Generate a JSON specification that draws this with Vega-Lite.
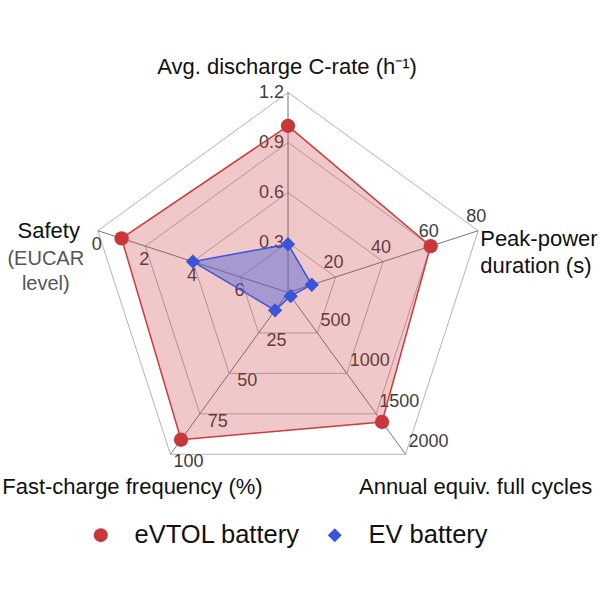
{
"$schema":"https://vega.github.io/schema/vega-lite/v6.json",
"width":601,"height":601,"autosize":{"type":"none"},"padding":0,
"background":"white",
"config":{"view":{"stroke":null},"font":"Liberation Sans"},
"datasets":{
 "axes":[
  {"idx":0,"max":1.2,"rev":0},
  {"idx":1,"max":80,"rev":0},
  {"idx":2,"max":2000,"rev":0},
  {"idx":3,"max":100,"rev":0},
  {"idx":4,"max":8,"rev":1}
 ],
 "ticks":[
  {"idx":0,"level":1,"label":"0.3"},{"idx":0,"level":2,"label":"0.6"},{"idx":0,"level":3,"label":"0.9"},{"idx":0,"level":4,"label":"1.2"},
  {"idx":1,"level":1,"label":"20"},{"idx":1,"level":2,"label":"40"},{"idx":1,"level":3,"label":"60"},{"idx":1,"level":4,"label":"80"},
  {"idx":2,"level":1,"label":"500"},{"idx":2,"level":2,"label":"1000"},{"idx":2,"level":3,"label":"1500"},{"idx":2,"level":4,"label":"2000"},
  {"idx":3,"level":1,"label":"25"},{"idx":3,"level":2,"label":"50"},{"idx":3,"level":3,"label":"75"},{"idx":3,"level":4,"label":"100"},
  {"idx":4,"level":1,"label":"6"},{"idx":4,"level":2,"label":"4"},{"idx":4,"level":3,"label":"2"},{"idx":4,"level":4,"label":"0"}
 ],
 "series":[
  {"battery":"eVTOL battery","idx":0,"value":1.0},
  {"battery":"eVTOL battery","idx":1,"value":60},
  {"battery":"eVTOL battery","idx":2,"value":1600},
  {"battery":"eVTOL battery","idx":3,"value":91},
  {"battery":"eVTOL battery","idx":4,"value":1},
  {"battery":"EV battery","idx":0,"value":0.29},
  {"battery":"EV battery","idx":1,"value":10},
  {"battery":"EV battery","idx":2,"value":45},
  {"battery":"EV battery","idx":3,"value":11},
  {"battery":"EV battery","idx":4,"value":4}
 ]
},
"encoding":{
 "x":{"field":"x","type":"quantitative","scale":{"domain":[-1.44,1.565],"nice":false,"zero":false},"axis":null},
 "y":{"field":"y","type":"quantitative","scale":{"domain":[-1.5425,1.4625],"nice":false,"zero":false},"axis":null}
},
"layer":[
 {"data":{"name":"ticks"},
  "transform":[{"calculate":"datum.level/4","as":"f"},{"calculate":"datum.idx*2*PI/5","as":"a"},{"calculate":"datum.f*sin(datum.a)","as":"x"},{"calculate":"datum.f*cos(datum.a)","as":"y"}],
  "mark":{"type":"line","interpolate":"linear-closed","stroke":"#b4b4b4","strokeWidth":1},
  "encoding":{"detail":{"field":"level","type":"nominal"},"order":{"field":"idx","type":"quantitative"}}},
 {"data":{"name":"axes"},
  "transform":[{"calculate":"1","as":"f"},{"calculate":"datum.idx*2*PI/5","as":"a"},{"calculate":"datum.f*sin(datum.a)","as":"x"},{"calculate":"datum.f*cos(datum.a)","as":"y"}],
  "mark":{"type":"rule","stroke":"#777777","strokeWidth":1},
  "encoding":{"x2":{"datum":0},"y2":{"datum":0}}},
 {"data":{"name":"ticks"},
  "transform":[{"filter":"datum.idx==0"},{"calculate":"datum.level/4","as":"f"},{"calculate":"datum.idx*2*PI/5","as":"a"},{"calculate":"datum.f*sin(datum.a)","as":"x"},{"calculate":"datum.f*cos(datum.a)","as":"y"}],
  "mark":{"type":"text","fontSize":18,"color":"#3d3d3d","align":"right","baseline":"middle","dx":-4,"dy":0},
  "encoding":{"text":{"field":"label"}}},
 {"data":{"name":"ticks"},
  "transform":[{"filter":"datum.idx==1"},{"calculate":"datum.level/4","as":"f"},{"calculate":"datum.idx*2*PI/5","as":"a"},{"calculate":"datum.f*sin(datum.a)","as":"x"},{"calculate":"datum.f*cos(datum.a)","as":"y"}],
  "mark":{"type":"text","fontSize":18,"color":"#3d3d3d","align":"center","baseline":"middle","dx":-2,"dy":-14},
  "encoding":{"text":{"field":"label"}}},
 {"data":{"name":"ticks"},
  "transform":[{"filter":"datum.idx==2"},{"calculate":"datum.level/4","as":"f"},{"calculate":"datum.idx*2*PI/5","as":"a"},{"calculate":"datum.f*sin(datum.a)","as":"x"},{"calculate":"datum.f*cos(datum.a)","as":"y"}],
  "mark":{"type":"text","fontSize":18,"color":"#3d3d3d","align":"left","baseline":"middle","dx":3,"dy":-12},
  "encoding":{"text":{"field":"label"}}},
 {"data":{"name":"ticks"},
  "transform":[{"filter":"datum.idx==3"},{"calculate":"datum.level/4","as":"f"},{"calculate":"datum.idx*2*PI/5","as":"a"},{"calculate":"datum.f*sin(datum.a)","as":"x"},{"calculate":"datum.f*cos(datum.a)","as":"y"}],
  "mark":{"type":"text","fontSize":18,"color":"#3d3d3d","align":"center","baseline":"middle","dx":18,"dy":8},
  "encoding":{"text":{"field":"label"}}},
 {"data":{"name":"ticks"},
  "transform":[{"filter":"datum.idx==4"},{"calculate":"datum.level/4","as":"f"},{"calculate":"datum.idx*2*PI/5","as":"a"},{"calculate":"datum.f*sin(datum.a)","as":"x"},{"calculate":"datum.f*cos(datum.a)","as":"y"}],
  "mark":{"type":"text","fontSize":18,"color":"#3d3d3d","align":"center","baseline":"middle","dx":-1,"dy":14},
  "encoding":{"text":{"field":"label"}}},
 {"data":{"name":"series"},
  "transform":[{"filter":"datum.battery=='eVTOL battery'"},{"lookup":"idx","from":{"data":{"name":"axes"},"key":"idx","fields":["max","rev"]}},{"calculate":"datum.rev==1 ? (datum.max-datum.value)/datum.max : datum.value/datum.max","as":"f"},{"calculate":"datum.idx*2*PI/5","as":"a"},{"calculate":"datum.f*sin(datum.a)","as":"x"},{"calculate":"datum.f*cos(datum.a)","as":"y"}],
  "mark":{"type":"line","interpolate":"linear-closed","stroke":"#cc3b3d","strokeWidth":1.5,"fill":"#cc3b3d","fillOpacity":0.28},
  "encoding":{"order":{"field":"idx","type":"quantitative"}}},
 {"data":{"name":"series"},
  "transform":[{"filter":"datum.battery=='EV battery'"},{"lookup":"idx","from":{"data":{"name":"axes"},"key":"idx","fields":["max","rev"]}},{"calculate":"datum.rev==1 ? (datum.max-datum.value)/datum.max : datum.value/datum.max","as":"f"},{"calculate":"datum.idx*2*PI/5","as":"a"},{"calculate":"datum.f*sin(datum.a)","as":"x"},{"calculate":"datum.f*cos(datum.a)","as":"y"}],
  "mark":{"type":"line","interpolate":"linear-closed","stroke":"#3b55d9","strokeWidth":1.5,"fill":"#4a5fd8","fillOpacity":0.45},
  "encoding":{"order":{"field":"idx","type":"quantitative"}}},
 {"data":{"name":"series"},
  "transform":[{"lookup":"idx","from":{"data":{"name":"axes"},"key":"idx","fields":["max","rev"]}},{"calculate":"datum.rev==1 ? (datum.max-datum.value)/datum.max : datum.value/datum.max","as":"f"},{"calculate":"datum.idx*2*PI/5","as":"a"},{"calculate":"datum.f*sin(datum.a)","as":"x"},{"calculate":"datum.f*cos(datum.a)","as":"y"}],
  "mark":{"type":"point","filled":true,"opacity":1,"size":205},
  "encoding":{
   "color":{"field":"battery","type":"nominal","scale":{"domain":["eVTOL battery","EV battery"],"range":["#c9373a","#3a55d6"]},
     "legend":{"orient":"none","legendX":88,"legendY":522,"direction":"horizontal","title":null,"padding":0,"labelFontSize":25.5,"labelLimit":400,"labelFont":"Liberation Sans","labelColor":"#111111","symbolSize":196,"labelOffset":21,"columnPadding":22,"symbolOpacity":1}},
   "shape":{"field":"battery","type":"nominal","scale":{"domain":["eVTOL battery","EV battery"],"range":["circle","diamond"]}}
  }},
 {"data":{"name":"axes"},
  "transform":[{"filter":"datum.idx==0"},{"calculate":"datum.idx*2*PI/5","as":"a"},{"calculate":"sin(datum.a)","as":"x"},{"calculate":"cos(datum.a)","as":"y"}],
  "mark":{"type":"text","text":"Avg. discharge C-rate (h⁻¹)","fontSize":22,"color":"#111111","align":"center","baseline":"middle","dx":-1,"dy":-26}},
 {"data":{"name":"axes"},
  "transform":[{"filter":"datum.idx==1"},{"calculate":"datum.idx*2*PI/5","as":"a"},{"calculate":"sin(datum.a)","as":"x"},{"calculate":"cos(datum.a)","as":"y"}],
  "mark":{"type":"text","text":["Peak-power","duration (s)"],"lineHeight":27,"fontSize":22,"color":"#111111","align":"left","baseline":"middle","dx":2,"dy":8}},
 {"data":{"name":"axes"},
  "transform":[{"filter":"datum.idx==2"},{"calculate":"datum.idx*2*PI/5","as":"a"},{"calculate":"sin(datum.a)","as":"x"},{"calculate":"cos(datum.a)","as":"y"}],
  "mark":{"type":"text","text":"Annual equiv. full cycles","fontSize":22,"color":"#111111","align":"center","baseline":"middle","dx":70,"dy":33}},
 {"data":{"name":"axes"},
  "transform":[{"filter":"datum.idx==3"},{"calculate":"datum.idx*2*PI/5","as":"a"},{"calculate":"sin(datum.a)","as":"x"},{"calculate":"cos(datum.a)","as":"y"}],
  "mark":{"type":"text","text":"Fast-charge frequency (%)","fontSize":22,"color":"#111111","align":"center","baseline":"middle","dx":-38,"dy":33}},
 {"data":{"name":"axes"},
  "transform":[{"filter":"datum.idx==4"},{"calculate":"datum.idx*2*PI/5","as":"a"},{"calculate":"sin(datum.a)","as":"x"},{"calculate":"cos(datum.a)","as":"y"}],
  "mark":{"type":"text","text":"Safety","fontSize":22,"color":"#111111","align":"center","baseline":"middle","dx":-49,"dy":0}},
 {"data":{"name":"axes"},
  "transform":[{"filter":"datum.idx==4"},{"calculate":"datum.idx*2*PI/5","as":"a"},{"calculate":"sin(datum.a)","as":"x"},{"calculate":"cos(datum.a)","as":"y"}],
  "mark":{"type":"text","text":["(EUCAR","level)"],"lineHeight":25,"fontSize":20,"color":"#555555","align":"center","baseline":"middle","dx":-52,"dy":28}}
]
}
